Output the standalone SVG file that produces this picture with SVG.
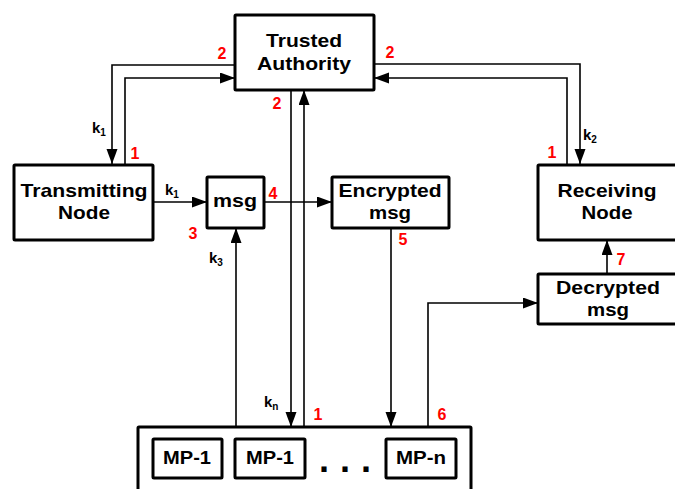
<svg xmlns="http://www.w3.org/2000/svg" width="675" height="489" viewBox="0 0 675 489">
<style>
.box{fill:#fff;stroke:#000;stroke-width:3;}
.lbl{font-family:"Liberation Sans",Arial,sans-serif;font-weight:bold;font-size:19px;fill:#000;text-anchor:middle;}
.num{font-family:"Liberation Sans",Arial,sans-serif;font-weight:bold;font-size:16px;fill:#ff0000;text-anchor:middle;}
.k{font-family:"Liberation Sans",Arial,sans-serif;font-weight:bold;font-size:15px;fill:#000;}
.k tspan{font-size:10px;}
.c{fill:none;stroke:#000;stroke-width:1.6;}
</style>
<defs>
<marker id="ah" markerUnits="userSpaceOnUse" markerWidth="16" markerHeight="12" refX="15" refY="5.5" orient="auto">
<path d="M0,0 L15,5.5 L0,11 Z" fill="#000"/>
</marker>
</defs>
<g id="connectors">
<polyline class="c" points="235,65 112,65 112,164" marker-end="url(#ah)"/>
<polyline class="c" points="125,165 125,78 235,78" marker-end="url(#ah)"/>
<polyline class="c" points="374,64 580,64 580,164" marker-end="url(#ah)"/>
<polyline class="c" points="567,165 567,78 374,78" marker-end="url(#ah)"/>
<line class="c" x1="291" y1="90" x2="291" y2="427" marker-end="url(#ah)"/>
<line class="c" x1="304" y1="427" x2="304" y2="90" marker-end="url(#ah)"/>
<line class="c" x1="153" y1="202" x2="207" y2="202" marker-end="url(#ah)"/>
<line class="c" x1="236" y1="427" x2="236" y2="228" marker-end="url(#ah)"/>
<line class="c" x1="264" y1="202" x2="332" y2="202" marker-end="url(#ah)"/>
<line class="c" x1="391" y1="228" x2="391" y2="427" marker-end="url(#ah)"/>
<polyline class="c" points="428,427 428,303 538,303" marker-end="url(#ah)"/>
<line class="c" x1="607" y1="274" x2="607" y2="240" marker-end="url(#ah)"/>
<text class="k" x="92" y="133">k<tspan dy="3">1</tspan></text>
<text class="k" x="165" y="195">k<tspan dy="3">1</tspan></text>
<text class="k" x="209" y="263">k<tspan dy="3">3</tspan></text>
<text class="k" x="583" y="140">k<tspan dy="3">2</tspan></text>
<text class="k" x="264" y="407">k<tspan dy="3">n</tspan></text>
<text class="num" x="222" y="59">2</text>
<text class="num" x="390" y="58">2</text>
<text class="num" x="277" y="109">2</text>
<text class="num" x="135" y="159">1</text>
<text class="num" x="552" y="158">1</text>
<text class="num" x="273" y="199">4</text>
<text class="num" x="193" y="239">3</text>
<text class="num" x="403" y="245">5</text>
<text class="num" x="621" y="265">7</text>
<text class="num" x="318" y="420">1</text>
<text class="num" x="442" y="420">6</text>
</g>
<g id="trusted-authority">
<rect class="box" x="235" y="15" width="139" height="75" rx="1"/>
<text class="lbl" x="304" y="47" textLength="76" lengthAdjust="spacingAndGlyphs">Trusted</text>
<text class="lbl" x="304" y="70" textLength="94" lengthAdjust="spacingAndGlyphs">Authority</text>
</g>
<g id="transmitting-node">
<rect class="box" x="14" y="165" width="139" height="75" rx="1"/>
<text class="lbl" x="84" y="197" textLength="127" lengthAdjust="spacingAndGlyphs">Transmitting</text>
<text class="lbl" x="84" y="219" textLength="52" lengthAdjust="spacingAndGlyphs">Node</text>
</g>
<g id="msg">
<rect class="box" x="207" y="177" width="57" height="51" rx="1"/>
<text class="lbl" x="235" y="207" textLength="44" lengthAdjust="spacingAndGlyphs">msg</text>
</g>
<g id="encrypted-msg">
<rect class="box" x="332" y="177" width="117" height="51" rx="1"/>
<text class="lbl" x="390" y="197" textLength="103" lengthAdjust="spacingAndGlyphs">Encrypted</text>
<text class="lbl" x="390" y="219" textLength="42" lengthAdjust="spacingAndGlyphs">msg</text>
</g>
<g id="receiving-node">
<rect class="box" x="538" y="165" width="150" height="75" rx="1"/>
<text class="lbl" x="607" y="197" textLength="99" lengthAdjust="spacingAndGlyphs">Receiving</text>
<text class="lbl" x="607" y="219" textLength="51" lengthAdjust="spacingAndGlyphs">Node</text>
</g>
<g id="decrypted-msg">
<rect class="box" x="538" y="274" width="150" height="50" rx="1"/>
<text class="lbl" x="608" y="294" textLength="104" lengthAdjust="spacingAndGlyphs">Decrypted</text>
<text class="lbl" x="608" y="316" textLength="42" lengthAdjust="spacingAndGlyphs">msg</text>
</g>
<g id="mix-pool">
<rect class="box" x="138" y="427" width="333" height="75" rx="1"/>
<g id="mp-1a">
<rect class="box" x="153" y="439" width="69" height="39" rx="1"/>
<text class="lbl" x="187" y="464" textLength="48" lengthAdjust="spacingAndGlyphs">MP-1</text>
</g>
<g id="mp-1b">
<rect class="box" x="235" y="439" width="70" height="39" rx="1"/>
<text class="lbl" x="270" y="464" textLength="48" lengthAdjust="spacingAndGlyphs">MP-1</text>
</g>
<text class="lbl" x="345" y="472" style="font-size:36px" textLength="52" lengthAdjust="spacing">. . .</text>
<g id="mp-n">
<rect class="box" x="386" y="439" width="70" height="39" rx="1"/>
<text class="lbl" x="421" y="464" textLength="50" lengthAdjust="spacingAndGlyphs">MP-n</text>
</g>
</g>
</svg>
